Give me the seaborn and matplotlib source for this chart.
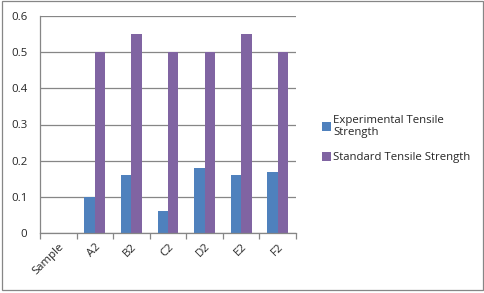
import matplotlib
matplotlib.use("Agg")
import matplotlib.pyplot as plt
import seaborn as sns
import pandas as pd
import numpy as np
from matplotlib.patches import Rectangle

categories = ["Sample", "A2", "B2", "C2", "D2", "E2", "F2"]
experimental = [np.nan, 0.10, 0.16, 0.06, 0.18, 0.16, 0.17]
standard = [np.nan, 0.50, 0.55, 0.50, 0.50, 0.55, 0.50]
series_names = ["Experimental Tensile\nStrength", "Standard Tensile Strength"]
yticks = [0, 0.1, 0.2, 0.3, 0.4, 0.5, 0.6]
ytick_labels = ["0", "0.1", "0.2", "0.3", "0.4", "0.5", "0.6"]

df = pd.DataFrame({
    "cat": categories * 2,
    "val": experimental + standard,
    "series": [series_names[0]] * len(categories) + [series_names[1]] * len(categories),
})

sns.set_theme(style="white")
plt.rcParams["font.family"] = ["Open Sans", "DejaVu Sans"]

W, H = 485, 293
fig = plt.figure(figsize=(W / 100, H / 100), dpi=100)
ax = fig.add_axes([40 / W, 1 - 233 / H, 256 / W, 217 / H])

sns.barplot(data=df, x="cat", y="val", hue="series", order=categories,
            hue_order=series_names, palette=["#4F81BD", "#8064A2"],
            width=0.57, gap=0, ax=ax, saturation=1, errorbar=None, legend=True,
            linewidth=0, edgecolor="none")

fs = 8.2
ax.set_ylim(0, 0.6)
ax.set_xlim(-0.5, len(categories) - 0.5)
ax.set_yticks(yticks)
ax.set_yticklabels(ytick_labels, fontsize=fs)
ax.yaxis.grid(True, color="#868686", linewidth=0.9)
ax.set_axisbelow(True)
ax.set_xlabel("")
ax.set_ylabel("")
ax.set_xticks(range(len(categories)))
ax.set_xticklabels(categories, rotation=45, ha="right", rotation_mode="anchor", fontsize=fs)
ax.set_xticks(np.arange(-0.5, len(categories), 1.0), minor=True)
ax.tick_params(axis="x", which="major", length=0, pad=6)
ax.tick_params(axis="x", which="minor", length=4, color="#868686", width=0.9, direction="out", bottom=True)
ax.tick_params(axis="y", length=0, pad=9)
for s in ["top", "right"]:
    ax.spines[s].set_visible(False)
for s in ["left", "bottom"]:
    ax.spines[s].set_color("#868686")
    ax.spines[s].set_linewidth(0.9)

handles, labels = ax.get_legend_handles_labels()
ax.get_legend().remove()
fig.legend(handles, labels, loc="center left", bbox_to_anchor=(312 / W, 1 - 139 / H),
           frameon=False, fontsize=fs, handlelength=0.75, handleheight=0.75,
           handletextpad=0.2, labelspacing=1.25)

fig.patches.append(Rectangle((2 / W, 3 / H), 481 / W, 289 / H, transform=fig.transFigure,
                             fill=False, edgecolor="#868686", linewidth=0.9))

fig.savefig("out.png", dpi=100)
